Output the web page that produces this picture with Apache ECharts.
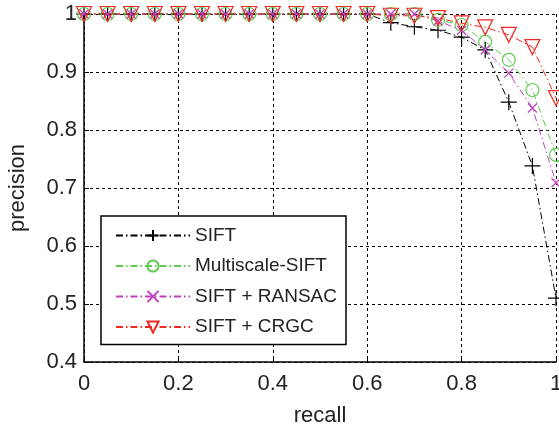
<!DOCTYPE html>
<html><head><meta charset="utf-8">
<script src="https://cdn.jsdelivr.net/npm/echarts@6/dist/echarts.min.js"></script>
<style>html,body{margin:0;padding:0;background:#fff}#c{width:559px;height:427px}</style>
</head><body><div id="c"></div>
<script>
const recall = [0,0.05,0.1,0.15,0.2,0.25,0.3,0.35,0.4,0.45,0.5,0.55,0.6,0.65,0.7,0.75,0.8,0.85,0.9,0.95,1];
const sift = [1,1,1,1,1,1,1,1,1,1,1,1,1,0.985,0.978,0.972,0.96,0.938,0.848,0.738,0.51];
const multiscaleSift = [1,1,1,1,1,1,1,1,1,1,1,1,1,1,1,0.99,0.981,0.952,0.921,0.869,0.757];
const siftRansac = [1,1,1,1,1,1,1,1,1,1,1,1,1,1,1,0.988,0.972,0.938,0.898,0.838,0.709];
const siftCrgc = [1,1,1,1,1,1,1,1,1,1,1,1,1,0.997,0.997,0.993,0.984,0.977,0.964,0.943,0.855];
const seriesNames = ['SIFT','Multiscale-SIFT','SIFT + RANSAC','SIFT + CRGC'];
const xTicks = ['0','0.2','0.4','0.6','0.8','1'];
const yTicks = ['0.4','0.5','0.6','0.7','0.8','0.9','1'];

const font = 'Liberation Sans, Arial, Helvetica, sans-serif';
const dashDot = [7,3,1.5,3];
function pairs(ys){ return recall.map((x,i)=>[x,ys[i]]); }
function mk(name, ys, color, symbol, size){
  return {
    name, type:'line', data:pairs(ys), clip:false,
    symbol, symbolSize:size, showAllSymbol:true,
    lineStyle:{color, width:1, type:dashDot},
    itemStyle:{color:'rgba(0,0,0,0)', borderColor:color, borderWidth:1.2},
    emphasis:{disabled:true}, animation:false
  };
}
const chart = echarts.init(document.getElementById('c'), null, {renderer:'canvas'});
chart.setOption({
  animation:false,
  backgroundColor:'#fff',
  grid:{left:84, right:3, top:14, bottom:65, containLabel:false, outerBoundsMode:'none'},
  xAxis:{type:'value', min:0, max:1, interval:0.2,
    name:'recall', nameLocation:'middle', nameGap:43,
    nameTextStyle:{fontFamily:font, fontSize:22, color:'#222'},
    axisLine:{show:true, lineStyle:{color:'#000', width:1.5}},
    axisTick:{show:true, inside:true, length:5, lineStyle:{color:'#000'}},
    axisLabel:{fontFamily:font, fontSize:22, color:'#222', margin:11,
      formatter:(v)=>{const i=Math.round(v/0.2); return xTicks[i]!==undefined?xTicks[i]:'';}},
    splitLine:{show:true, lineStyle:{color:'#000', width:1, type:[3,3]}}
  },
  yAxis:{type:'value', min:0.4, max:1, interval:0.1,
    name:'precision', nameLocation:'middle', nameGap:55,
    nameTextStyle:{fontFamily:font, fontSize:22, color:'#222'},
    axisLine:{show:true, lineStyle:{color:'#000', width:1.5}},
    axisTick:{show:true, inside:true, length:5, lineStyle:{color:'#000'}},
    axisLabel:{fontFamily:font, fontSize:22, color:'#222', margin:7,
      formatter:(v)=>{const i=Math.round((v-0.4)/0.1); return yTicks[i]!==undefined?yTicks[i]:'';}},
    splitLine:{show:true, lineStyle:{color:'#000', width:1, type:[3,3]}}
  },
  legend:{
    orient:'vertical', left:101, top:216,
    data:seriesNames,
    itemWidth:74, itemHeight:14, itemGap:11.5,
    padding:[10,9,8,14],
    borderColor:'#000', borderWidth:1.5, backgroundColor:'#fff',
    textStyle:{fontFamily:font, fontSize:19, color:'#222'},
    selectedMode:false
  },
  series:[
    mk(seriesNames[0], sift, '#000000', 'path://M0,-1L0,1M-1,0L1,0', 16),
    mk(seriesNames[1], multiscaleSift, '#5fcc4f', 'circle', 13),
    mk(seriesNames[2], siftRansac, '#c040c0', 'path://M-1,-1L1,1M-1,1L1,-1', 9),
    mk(seriesNames[3], siftCrgc, '#ee2a22', 'path://M-1,-0.85L1,-0.85L0,0.85Z', 15)
  ]
});
</script></body></html>
